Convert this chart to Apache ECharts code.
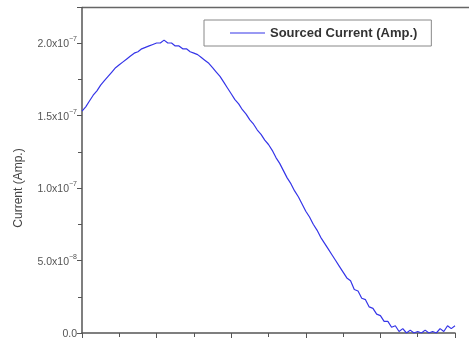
<!DOCTYPE html>
<html>
<head>
<meta charset="utf-8">
<script src="https://cdn.jsdelivr.net/npm/echarts@6/dist/echarts.min.js"></script>
<style>
html,body{margin:0;padding:0;background:#fff;}
#chart{width:469px;height:342px;}
</style>
</head>
<body>
<div id="chart"></div>
<script>
// x position (arbitrary units, 0..5)
var xValues = [0.00,0.05,0.10,0.15,0.20,0.25,0.30,0.35,0.40,0.45,
0.50,0.55,0.60,0.65,0.70,0.75,0.80,0.85,0.90,0.95,
1.00,1.05,1.10,1.15,1.20,1.25,1.30,1.35,1.40,1.45,
1.50,1.55,1.60,1.65,1.70,1.75,1.80,1.85,1.90,1.95,
2.00,2.05,2.10,2.15,2.20,2.25,2.30,2.35,2.40,2.45,
2.50,2.55,2.60,2.65,2.70,2.75,2.80,2.85,2.90,2.95,
3.00,3.05,3.10,3.15,3.20,3.25,3.30,3.35,3.40,3.45,
3.50,3.55,3.60,3.65,3.70,3.75,3.80,3.85,3.90,3.95,
4.00,4.05,4.10,4.15,4.20,4.25,4.30,4.35,4.40,4.45,
4.50,4.55,4.60,4.65,4.70,4.75,4.80,4.85,4.90,4.95,5.00];
// sourced current, in units of 1e-7 A
var currentE7 = [1.53,1.56,1.60,1.64,1.67,1.71,1.74,1.77,1.80,1.83,
1.85,1.87,1.89,1.91,1.93,1.94,1.96,1.97,1.98,1.99,
2.00,2.00,2.02,2.00,2.00,1.98,1.98,1.96,1.96,1.94,
1.93,1.92,1.90,1.88,1.86,1.83,1.80,1.77,1.73,1.69,
1.65,1.61,1.58,1.54,1.51,1.47,1.44,1.40,1.37,1.33,
1.30,1.26,1.21,1.17,1.12,1.07,1.03,0.98,0.94,0.89,
0.84,0.80,0.75,0.71,0.66,0.62,0.58,0.54,0.50,0.46,
0.42,0.38,0.36,0.30,0.29,0.24,0.23,0.18,0.17,0.13,
0.12,0.08,0.08,0.04,0.05,0.01,0.03,0.00,0.02,0.00,
0.01,0.00,0.02,0.00,0.01,0.00,0.03,0.01,0.05,0.03,0.05];
var yTickValues = [0, 0.5, 1.0, 1.5, 2.0];
var yTickMantissa = ['0.0', '5.0x10', '1.0x10', '1.5x10', '2.0x10'];
var yTickExponent = ['', '\u22128', '\u22127', '\u22127', '\u22127'];
var seriesName = 'Sourced Current (Amp.)';
var yAxisTitle = 'Current (Amp.)';

var data = xValues.map(function (x, i) { return [x, currentE7[i]]; });

var chart = echarts.init(document.getElementById('chart'));
chart.setOption({
  animation: false,
  backgroundColor: '#fff',
  grid: { left: 82, top: 7.5, right: 14, bottom: 9, containLabel: false },
  legend: {
    left: 204, top: 20,
    data: [seriesName],
    icon: 'rect',
    borderColor: '#888', borderWidth: 1, borderRadius: 0,
    padding: [6, 14, 6, 26],
    itemWidth: 35, itemHeight: 1,
    itemStyle: { color: '#3535e8' },
    textStyle: { fontFamily: 'Liberation Sans, Arial', fontWeight: 'bold', fontSize: 13, color: '#333', lineHeight: 14 }
  },
  xAxis: {
    type: 'value', min: 0, max: 5, interval: 1,
    axisLine: { show: true, lineStyle: { color: '#555', width: 1.5 } },
    axisTick: { show: true, inside: false, length: 5, lineStyle: { color: '#555', width: 1 } },
    minorTick: { show: true, splitNumber: 2, length: 4, lineStyle: { color: '#555', width: 1 } },
    axisLabel: { show: false },
    splitLine: { show: false }
  },
  yAxis: {
    type: 'value', min: 0, max: 2.245, interval: 0.5,
    axisLine: { show: true, lineStyle: { color: '#555', width: 1.5 } },
    axisTick: { show: true, inside: false, length: 5, lineStyle: { color: '#555', width: 1 } },
    minorTick: { show: true, splitNumber: 2, length: 4, lineStyle: { color: '#555', width: 1 } },
    splitLine: { show: false },
    axisLabel: {
      margin: 5,
      formatter: function (v) {
        for (var i = 0; i < yTickValues.length; i++) {
          if (Math.abs(v - yTickValues[i]) < 1e-6) {
            return yTickExponent[i] ? '{a|' + yTickMantissa[i] + '}{b|' + yTickExponent[i] + '}' : '{a|' + yTickMantissa[i] + '}';
          }
        }
        return '';
      },
      rich: {
        a: { fontFamily: 'Liberation Sans, Arial', fontSize: 10.5, color: '#555', lineHeight: 14, verticalAlign: 'bottom' },
        b: { fontFamily: 'Liberation Sans, Arial', fontSize: 7, color: '#555', lineHeight: 14, verticalAlign: 'top' }
      }
    }
  },
  graphic: [
    { type: 'line', shape: { x1: 82, y1: 7.5, x2: 469, y2: 7.5 }, style: { stroke: '#666', lineWidth: 1.5 }, silent: true },
    { type: 'text', x: 19, y: 188, rotation: Math.PI / 2,
      style: { text: yAxisTitle, fontFamily: 'Liberation Sans, Arial', fontSize: 12, fill: '#444', align: 'center', verticalAlign: 'middle' } }
  ],
  series: [{
    name: seriesName,
    type: 'line',
    data: data,
    symbol: 'none',
    lineStyle: { color: '#3535e8', width: 1.2 },
    itemStyle: { color: '#3535e8' }
  }]
});
</script>
</body>
</html>
